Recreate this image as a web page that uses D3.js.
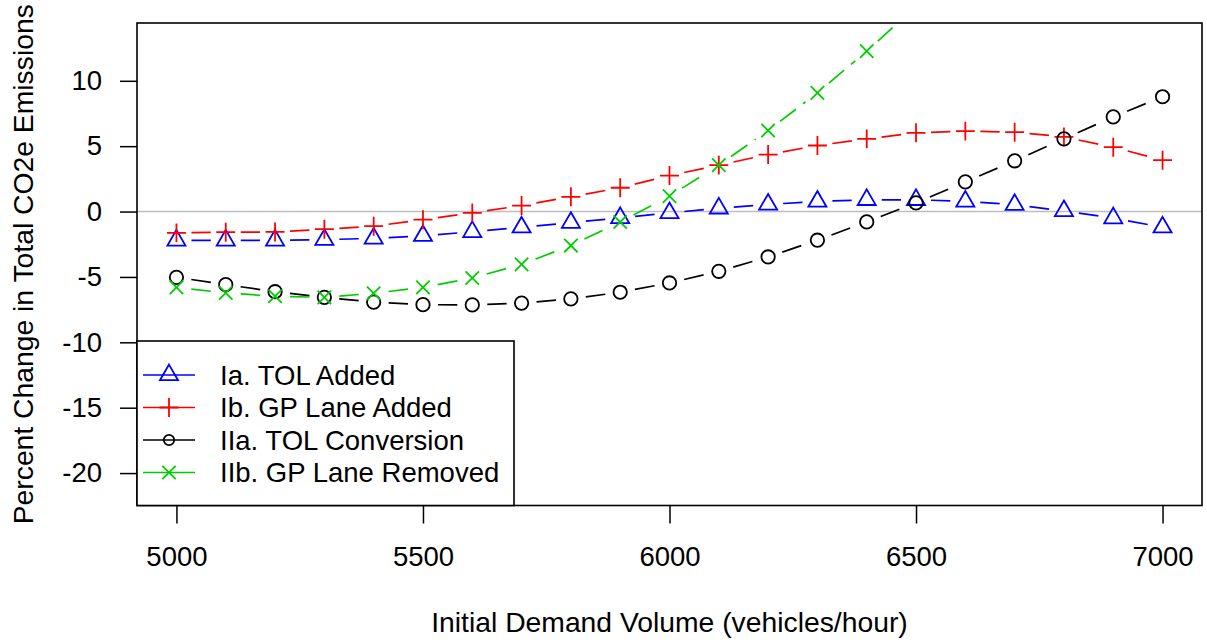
<!DOCTYPE html>
<html><head><meta charset="utf-8">
<script src="https://cdn.jsdelivr.net/npm/d3@7"></script>
<style>
body{margin:0;background:#fff}
svg{display:block}
text{font-family:"Liberation Sans",Arial,Helvetica,sans-serif;fill:#000}
</style>
</head><body>
<svg id="chart" width="1207" height="643"></svg>
<script>
// ---- data ----
const volumes = [5000,5100,5200,5300,5400,5500,5600,5700,5800,5900,6000,6100,6200,6300,6400,6500,6600,6700,6800,6900,7000];
const tolAdded      = [-2.2,-2.2,-2.2,-2.15,-2.05,-1.85,-1.55,-1.2,-0.85,-0.48,-0.1,0.25,0.55,0.77,0.9,0.9,0.78,0.52,0.05,-0.5,-1.2];
const gpLaneAdded   = [-1.63,-1.58,-1.56,-1.35,-1.12,-0.62,-0.1,0.46,1.13,1.82,2.75,3.55,4.36,5.05,5.56,6.02,6.15,6.07,5.71,4.92,3.93];
const tolConversion = [-5.03,-5.59,-6.13,-6.56,-6.93,-7.12,-7.14,-7.0,-6.68,-6.17,-5.46,-4.57,-3.47,-2.19,-0.79,0.66,2.27,3.88,5.56,7.24,8.78];
const gpLaneRemoved = [-5.8,-6.22,-6.48,-6.56,-6.25,-5.8,-5.08,-4.04,-2.6,-0.8,1.18,3.55,6.2,9.08,12.27,15.7];
const seriesNames   = ["Ia. TOL Added","Ib. GP Lane Added","IIa. TOL Conversion","IIb. GP Lane Removed"];
const seriesColors  = ["#0000FF","#FF0000","#000000","#00CD00"];
const seriesShapes  = ["triangle","plus","circle","cross"];
const xTicks = [5000,5500,6000,6500,7000];
const yTicks = [-20,-15,-10,-5,0,5,10];
const xTitle = "Initial Demand Volume (vehicles/hour)";
const yTitle = "Percent Change in Total CO2e Emissions";

const series = [tolAdded, gpLaneAdded, tolConversion, gpLaneRemoved].map((vals,i)=>({
  name: seriesNames[i], color: seriesColors[i], shape: seriesShapes[i],
  points: vals.map((v,j)=>({x: volumes[j], y: v}))
}));

// ---- layout ----
const L = 137, R = 1202, T = 23, B = 505.5;
const FS = 27.5, FT = 28.3;
const svg = d3.select("#chart");
const x = d3.scaleLinear().domain([4920, 7080]).range([L, R]);
const y = d3.scaleLinear().domain([-22.48, 14.42]).range([B, T]);

svg.append("defs").append("clipPath").attr("id","plotclip")
  .append("rect").attr("x",L).attr("y",T).attr("width",R-L).attr("height",B-T);

// zero reference line
svg.append("line").attr("x1",L).attr("x2",R).attr("y1",y(0)).attr("y2",y(0))
  .attr("stroke","#BEBEBE").attr("stroke-width",1.5);

// marker drawing
const S = 6.7; // symbol radius
function drawMarker(g, shape, cx, cy, color, r) {
  r = r || S;
  const sw = 1.8;
  if (shape === "triangle") {
    const xc = r*1.347, top = r*1.555, bot = r*0.778;
    g.append("path").attr("d",`M${cx},${cy-top}L${cx+xc},${cy+bot}L${cx-xc},${cy+bot}Z`)
      .attr("fill","none").attr("stroke",color).attr("stroke-width",sw);
  } else if (shape === "plus") {
    const h = r*1.414;
    g.append("path").attr("d",`M${cx-h},${cy}H${cx+h}M${cx},${cy-h}V${cy+h}`)
      .attr("fill","none").attr("stroke",color).attr("stroke-width",sw);
  } else if (shape === "circle") {
    g.append("circle").attr("cx",cx).attr("cy",cy).attr("r",r)
      .attr("fill","none").attr("stroke",color).attr("stroke-width",sw);
  } else if (shape === "cross") {
    g.append("path").attr("d",`M${cx-r},${cy-r}L${cx+r},${cy+r}M${cx-r},${cy+r}L${cx+r},${cy-r}`)
      .attr("fill","none").attr("stroke",color).attr("stroke-width",sw);
  }
}

// series (type = "b": dashed segments with gaps around points)
const GAP = 15;
const plotG = svg.append("g").attr("clip-path","url(#plotclip)");
series.forEach(s => {
  const g = plotG.append("g");
  const pts = s.points.map(p => [x(p.x), y(p.y)]);
  for (let i = 0; i < pts.length-1; i++) {
    const [x0,y0] = pts[i], [x1,y1] = pts[i+1];
    const dx = x1-x0, dy = y1-y0, len = Math.hypot(dx,dy);
    if (len <= 2*GAP) continue;
    const ux = dx/len, uy = dy/len;
    g.append("line")
      .attr("x1", x0+ux*GAP).attr("y1", y0+uy*GAP)
      .attr("x2", x1-ux*GAP).attr("y2", y1-uy*GAP)
      .attr("stroke", s.color).attr("stroke-width",1.7)
      .attr("stroke-dasharray","20,9");
  }
  pts.forEach(([px,py]) => drawMarker(g, s.shape, px, py, s.color));
});

// axes
const xAxis = svg.append("g").attr("transform",`translate(0,${B})`)
  .call(d3.axisBottom(x).tickValues(xTicks).tickSize(18).tickPadding(23).tickFormat(d3.format("d")));
const yAxis = svg.append("g").attr("transform",`translate(${L},0)`)
  .call(d3.axisLeft(y).tickValues(yTicks).tickSize(17).tickPadding(18).tickFormat(d=> d<0 ? "-"+Math.abs(d) : String(d)));
[xAxis,yAxis].forEach(a=>{
  a.select(".domain").remove();
  a.selectAll(".tick line").attr("stroke","#000").attr("stroke-width",1.5);
  a.selectAll(".tick text").attr("font-size",FS).attr("fill","#000")
    .style("font-family",'"Liberation Sans",Arial,sans-serif');
});

// box
svg.append("rect").attr("x",L).attr("y",T).attr("width",R-L).attr("height",B-T)
  .attr("fill","none").attr("stroke","#000").attr("stroke-width",1.6);

// titles
svg.append("text").attr("x",(L+R)/2).attr("y",632).attr("text-anchor","middle")
  .attr("font-size",FT).text(xTitle);
svg.append("text").attr("transform",`translate(33,${(T+B)/2}) rotate(-90)`)
  .attr("text-anchor","middle").attr("font-size",FT).text(yTitle);

// legend
const lg = svg.append("g");
lg.append("rect").attr("x",L).attr("y",341).attr("width",377).attr("height",B-341)
  .attr("fill","#fff").attr("stroke","#000").attr("stroke-width",1.6);
const rowY = [375, 407.5, 440, 472.5];
series.forEach((s,i)=>{
  const ry = rowY[i];
  lg.append("line").attr("x1",143).attr("x2",195).attr("y1",ry).attr("y2",ry)
    .attr("stroke",s.color).attr("stroke-width",1.7);
  drawMarker(lg, s.shape, 169, ry, s.color, s.shape==="circle" ? 5.2 : S);
  lg.append("text").attr("x",220).attr("y",ry).attr("dy","0.36em")
    .attr("font-size",FS).text(s.name);
});
</script>
</body></html>
